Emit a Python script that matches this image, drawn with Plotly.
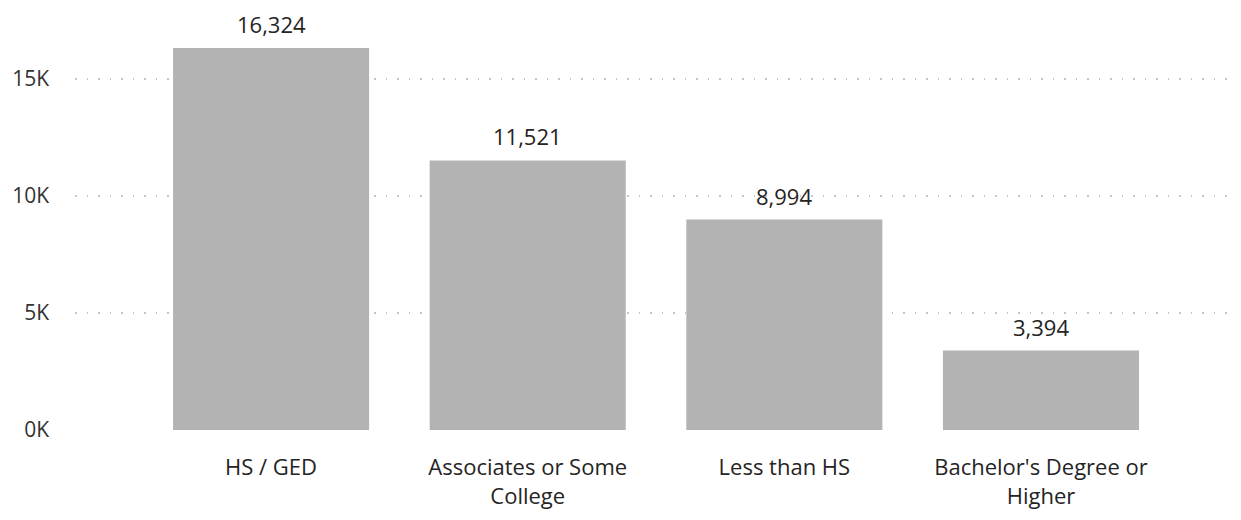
import plotly.graph_objects as go

categories = ["HS / GED", "Associates or Some<br>College", "Less than HS", "Bachelor's Degree or<br>Higher"]
values = [16324, 11521, 8994, 3394]
y_tickvals = [0, 5000, 10000, 15000]
y_ticktext = ["0K", "5K", "10K", "15K"]

FONT = "Open Sans, Noto Sans, sans-serif"
xs = list(range(len(categories)))

fig = go.Figure(go.Bar(
    x=xs,
    y=values,
    width=0.764,
    marker=dict(color="#b3b3b3", line=dict(width=0)),
    cliponaxis=False,
))

for x, v in zip(xs, values):
    fig.add_annotation(
        x=x, y=v, text=f"{v:,}", showarrow=False,
        yanchor="bottom", yshift=7,
        font=dict(family=FONT, size=22, color="#252423"),
    )

fig.update_layout(
    width=1241, height=520,
    margin=dict(l=67, r=14, t=12, b=98),
    plot_bgcolor="white", paper_bgcolor="white",
    showlegend=False,
    xaxis=dict(
        range=[-0.764, 3.756],
        tickvals=xs,
        ticktext=categories,
        showgrid=False, zeroline=False, showline=False, ticks="",
        tickfont=dict(family=FONT, size=22, color="#252423"),
        ticklabelstandoff=22,
        automargin=False,
    ),
    yaxis=dict(
        range=[0, 17521],
        tickvals=y_tickvals, ticktext=y_ticktext,
        showgrid=True, gridcolor="#c4c4c4", griddash="1.5px,10px", gridwidth=1.5,
        zeroline=False, showline=False, ticks="",
        tickfont=dict(family=FONT, size=21, color="#333333"),
        ticklabelstandoff=25,
        automargin=False,
    ),
)

fig.write_html("out.html")
